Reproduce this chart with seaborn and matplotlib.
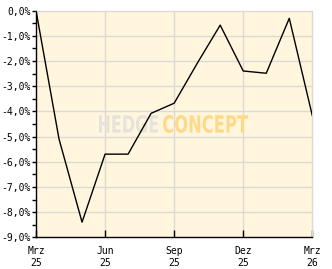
import matplotlib
matplotlib.use("Agg")
import matplotlib.pyplot as plt
import seaborn as sns
import pandas as pd
from matplotlib.ticker import MultipleLocator, FixedLocator
from matplotlib.textpath import TextPath
from matplotlib.patches import PathPatch
from matplotlib.font_manager import FontProperties
from matplotlib.transforms import Affine2D, IdentityTransform

months = ["2025-03", "2025-04", "2025-05", "2025-06", "2025-07", "2025-08", "2025-09",
          "2025-10", "2025-11", "2025-12", "2026-01", "2026-02", "2026-03"]
values = [0.0, -5.1, -8.4, -5.7, -5.7, -4.08, -3.68, -2.1, -0.58, -2.40, -2.49, -0.31, -4.17]
tick_pos = [0, 3, 6, 9, 12]
tick_labels = ["Mrz\n25", "Jun\n25", "Sep\n25", "Dez\n25", "Mrz\n26"]
y_ticks = [0, -1, -2, -3, -4, -5, -6, -7, -8, -9]

df = pd.DataFrame({"idx": range(len(months)), "month": months, "value": values})

W, H = 332, 269
fig = plt.figure(figsize=(W / 100, H / 100), dpi=100)
ax = fig.add_axes([36 / W, 31.7 / H, (312.3 - 36) / W, (237.3 - 10.5) / H])
ax.set_facecolor("#FFF6DD")

grid_c = "#DCDAD4"
for y in y_ticks[1:-1]:
    ax.axhline(y, color=grid_c, lw=1.0, zorder=0)
for x in tick_pos[1:-1]:
    ax.axvline(x, color=grid_c, lw=1.0, zorder=0)


def watermark(text, x0, x1, ytop, ybot, color):
    fp = FontProperties(family="DejaVu Sans", weight="bold")
    tp = TextPath((0, 0), text, size=1, prop=fp)
    ext = tp.get_extents()
    sx = (x1 - x0) / ext.width
    sy = (ybot - ytop) / ext.height
    tr = Affine2D().translate(-ext.x0, -ext.y0).scale(sx, sy).translate(x0, H - ybot)
    patch = PathPatch(tr.transform_path(tp), facecolor=color, edgecolor="none",
                      transform=IdentityTransform(), zorder=1, clip_on=False)
    ax.add_artist(patch)


watermark("HEDGE", 99, 158, 115, 133, "#E6E3DA")
watermark("CONCEPT", 163, 248, 115, 133, "#FFD98A")

sns.lineplot(data=df, x="idx", y="value", ax=ax, color="black", lw=1.0, zorder=3)

ax.set_xlim(0, 12)
ax.set_ylim(-9, 0)
ax.set_xlabel("")
ax.set_ylabel("")

ax.xaxis.set_major_locator(FixedLocator(tick_pos))
ax.set_xticklabels(tick_labels)
ax.yaxis.set_major_locator(FixedLocator(y_ticks))
ax.set_yticklabels([f"{v:.1f}%".replace(".", ",") for v in y_ticks])
ax.yaxis.set_minor_locator(MultipleLocator(0.5))

for s in ["top", "right"]:
    ax.spines[s].set_color(grid_c)
    ax.spines[s].set_linewidth(1.0)
for s in ["left", "bottom"]:
    ax.spines[s].set_color("black")
    ax.spines[s].set_linewidth(1.0)

ax.tick_params(axis="x", direction="in", length=5, width=1, pad=6,
               labelsize=7, colors="black")
ax.tick_params(axis="y", which="major", direction="out", length=3, width=1, pad=1,
               labelsize=7)
ax.tick_params(axis="y", which="minor", direction="out", length=3, width=1)
for lab in ax.get_xticklabels() + ax.get_yticklabels():
    lab.set_family("DejaVu Sans Mono")
    lab.set_linespacing(1.25)

fig.savefig("out.png", dpi=100, facecolor="white")
